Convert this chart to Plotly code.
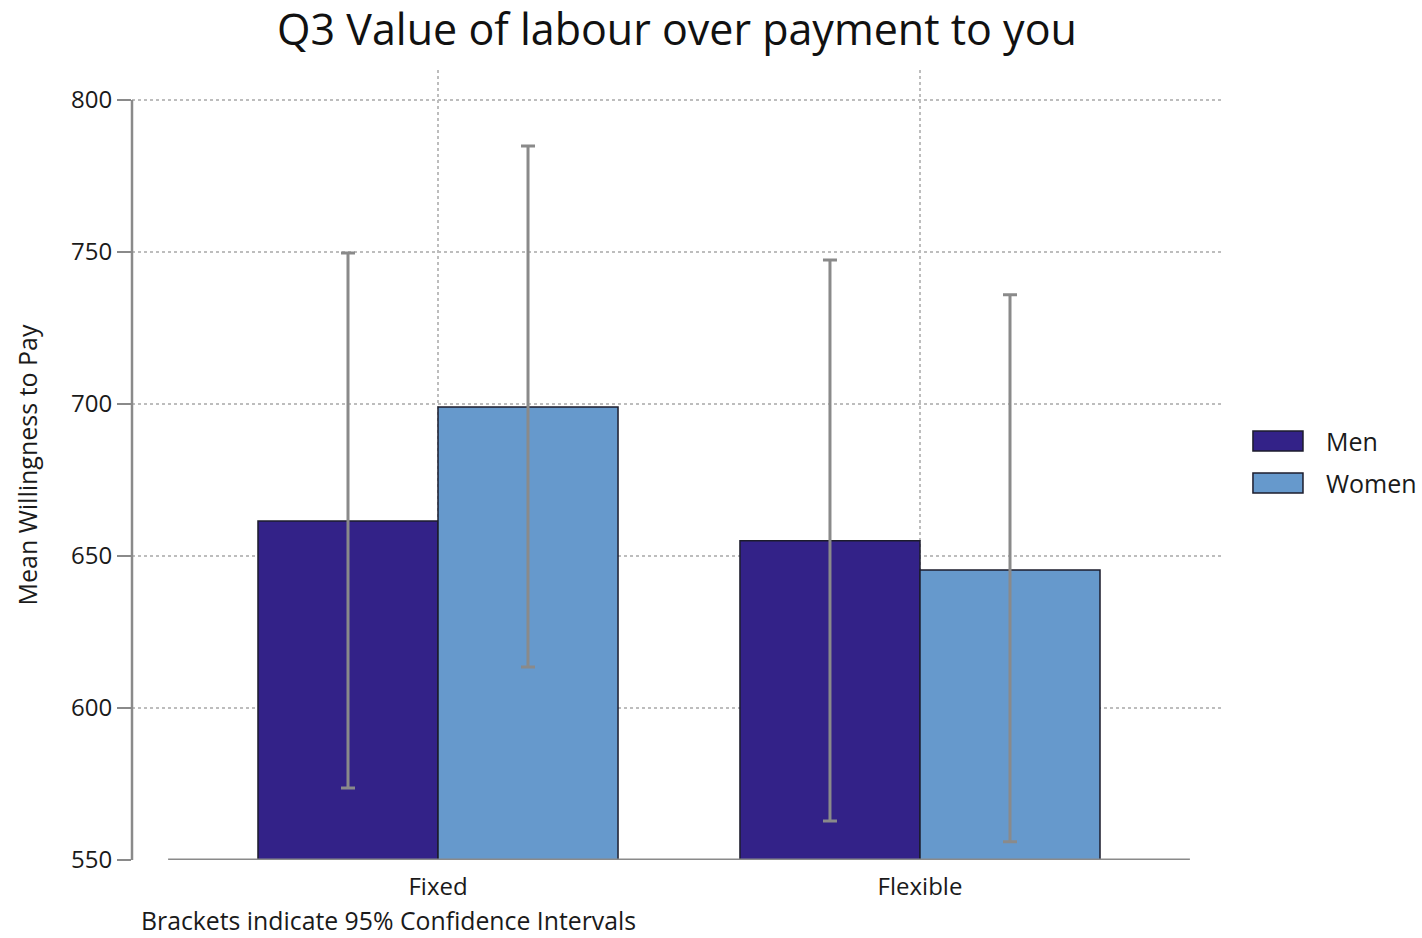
import plotly.graph_objects as go

# Data
categories = ["Fixed", "Flexible"]
men_mean = [661.5, 655.0]
men_upper = [749.7, 747.4]
men_lower = [573.7, 562.8]
women_mean = [699.0, 645.4]
women_upper = [784.9, 735.9]
women_lower = [613.5, 556.0]

series_names = ["Men", "Women"]
series_colors = ["#332288", "#6699CC"]
y_ticks = [550, 600, 650, 700, 750, 800]

title_text = "Q3 Value of labour over payment to you"
note_text = "Brackets indicate 95% Confidence Intervals"
y_title = "Mean Willingness to Pay"

FONT = "Open Sans, Segoe UI, sans-serif"
AXIS_GRAY = "#8a8a8a"
GRID_GRAY = "#bdbdbd"


def err_arrays(mean, upper, lower):
    plus = [u - m for u, m in zip(upper, mean)]
    minus = [m - l for m, l in zip(mean, lower)]
    return plus, minus


fig = go.Figure()
for name, color, mean, up, lo in [
    (series_names[0], series_colors[0], men_mean, men_upper, men_lower),
    (series_names[1], series_colors[1], women_mean, women_upper, women_lower),
]:
    plus, minus = err_arrays(mean, up, lo)
    fig.add_trace(go.Bar(
        x=categories, y=[m - 550 for m in mean], base=550, name=name,
        marker=dict(color=color, line=dict(color="#1c1c2c", width=1.5)),
        error_y=dict(type="data", array=plus, arrayminus=minus,
                     color=AXIS_GRAY, thickness=3, width=7),
        showlegend=False,
    ))

shapes = [
    # y axis line
    dict(type="line", xref="paper", yref="y", x0=0, x1=0, y0=550, y1=800,
         line=dict(color=AXIS_GRAY, width=2.5), layer="above"),
    # x axis baseline
    dict(type="line", xref="x", yref="y", x0=-0.56, x1=1.56, y0=550, y1=550,
         line=dict(color=AXIS_GRAY, width=3), layer="above"),
]

annotations = [
    dict(text=note_text, xref="paper", yref="paper", x=0.0064, y=-0.0759,
         xanchor="left", yanchor="middle", showarrow=False,
         font=dict(family=FONT, size=24.8, color="#1a1a1a")),
]

# Legend drawn as wide swatches with labels
legend_rows = [(0.5430, 0.5177, 0.5304), (0.4899, 0.4646, 0.4772)]
for (y_top, y_bot, y_txt), name, color in zip(legend_rows, series_names, series_colors):
    shapes.append(dict(type="rect", xref="paper", yref="paper",
                       x0=1.0284, x1=1.0743, y0=y_bot, y1=y_top,
                       fillcolor=color, line=dict(color="#1c1c2c", width=1.5)))
    annotations.append(dict(text=name, xref="paper", yref="paper", x=1.0936, y=y_txt,
                            xanchor="left", yanchor="middle", showarrow=False,
                            font=dict(family=FONT, size=25, color="#1a1a1a")))

fig.update_layout(
    width=1422, height=938,
    margin=dict(l=132, r=200, t=70, b=78),
    paper_bgcolor="white", plot_bgcolor="white",
    barmode="group", bargap=0.253, bargroupgap=0,
    title=dict(text=title_text, x=0.5, xref="paper", y=0.968, yanchor="middle",
               font=dict(family=FONT, size=43, color="#111111")),
    font=dict(family=FONT, color="#1a1a1a"),
    xaxis=dict(type="category", range=[-0.6349, 1.6266],
               showgrid=True, gridcolor=GRID_GRAY, griddash="dot", gridwidth=1.5,
               showline=False, ticks="", zeroline=False, ticklabelstandoff=10,
               tickfont=dict(family=FONT, size=24, color="#1a1a1a")),
    yaxis=dict(range=[550, 809.87], tickvals=y_ticks,
               showgrid=True, gridcolor=GRID_GRAY, griddash="dot", gridwidth=1.5,
               showline=False, zeroline=False,
               ticks="outside", ticklen=14, tickwidth=2, tickcolor=AXIS_GRAY,
               tickfont=dict(family=FONT, size=24, color="#1a1a1a"),
               title=dict(text=y_title, standoff=26,
                          font=dict(family=FONT, size=25, color="#1a1a1a"))),
    shapes=shapes,
    annotations=annotations,
)

fig.write_html("out.html")
